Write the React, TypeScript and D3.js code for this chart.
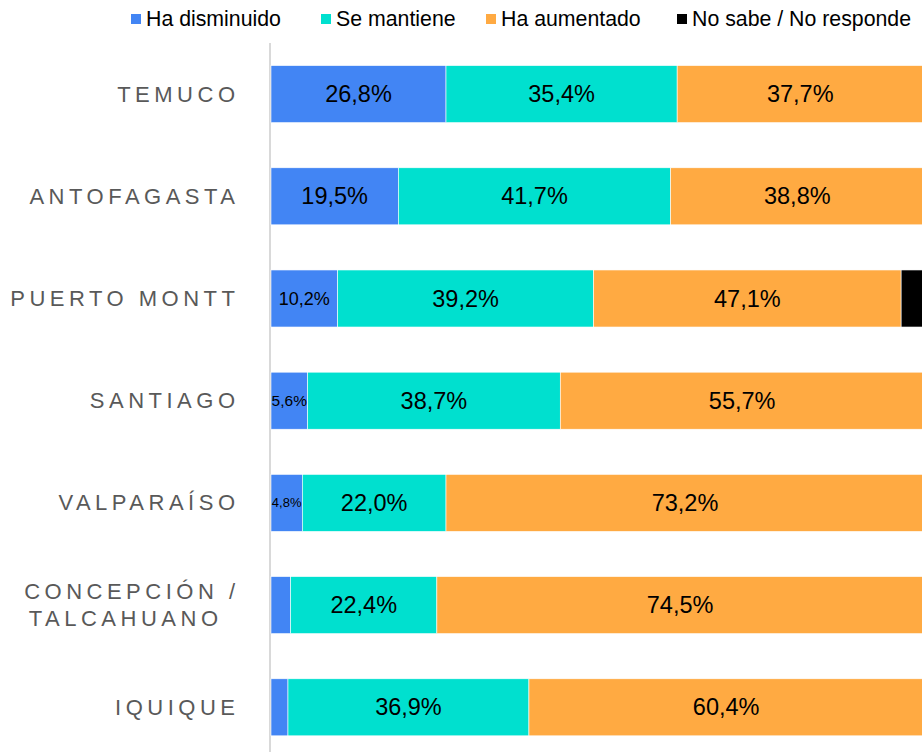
import React from "react";
import * as d3 from "d3";

const categories = ["TEMUCO", "ANTOFAGASTA", "PUERTO MONTT", "SANTIAGO", "VALPARAÍSO", "CONCEPCIÓN / TALCAHUANO", "IQUIQUE"];
const categoryLines = [["TEMUCO"], ["ANTOFAGASTA"], ["PUERTO MONTT"], ["SANTIAGO"], ["VALPARAÍSO"], ["CONCEPCIÓN /", "TALCAHUANO"], ["IQUIQUE"]];
const seriesNames = ["Ha disminuido", "Se mantiene", "Ha aumentado", "No sabe / No responde"];
const disminuido = [26.8, 19.5, 10.2, 5.6, 4.8, 3.0, 2.6];
const mantiene = [35.4, 41.7, 39.2, 38.7, 22.0, 22.4, 36.9];
const aumentado = [37.7, 38.8, 47.1, 55.7, 73.2, 74.5, 60.4];
const noSabe = [0, 0, 3.5, 0, 0, 0, 0];

const colors = ["#4285F4", "#00E0CF", "#FFAA42", "#000000"];

const W = 922;
const H = 752;

function labelSize(v: number) {
  if (v >= 15) return 23.5;
  if (v >= 10) return 18;
  if (v >= 5) return 15.5;
  return 13;
}

export default function App() {
  const series = [disminuido, mantiene, aumentado, noSabe];
  const rows = categories.map((c, i) => {
    const r: any = { cat: c };
    seriesNames.forEach((s, j) => (r[s] = series[j][i]));
    return r;
  });
  const stacked = d3.stack<any>().keys(seriesNames)(rows);

  const x = d3.scaleLinear().domain([0, 100]).range([271, 924]);
  const y = d3
    .scaleBand<string>()
    .domain(categories)
    .range([43, 43 + 7 * 102.2])
    .paddingInner(0.442)
    .paddingOuter(0.221);

  const legendX = [131, 321, 486, 677];

  return (
    <svg
      width={W}
      height={H}
      style={{ position: "absolute", left: 0, top: 0, fontFamily: "'Liberation Sans', Arial, sans-serif" }}
    >
      <rect width={W} height={H} fill="#fff" />
      {/* legend */}
      {seriesNames.map((s, i) => (
        <g key={s}>
          <rect x={legendX[i]} y={14} width={10} height={10} fill={colors[i]} />
          <text x={legendX[i] + 15} y={19} dominantBaseline="central" fontSize={21.3} fill="#000">
            {s}
          </text>
        </g>
      ))}
      {/* axis line */}
      <line x1={270} x2={270} y1={43} y2={H} stroke="#d9d9d9" strokeWidth={2} />
      {/* bars */}
      {stacked.map((layer, j) => (
        <g key={layer.key}>
          {layer.map((d, i) => {
            const v = d[1] - d[0];
            if (v <= 0) return null;
            const x0 = x(d[0]);
            const x1 = x(d[1]);
            const yy = y(categories[i])!;
            const bw = y.bandwidth();
            const showLabel = j < 3 && v >= 4;
            return (
              <g key={i}>
                <rect x={x0} y={yy} width={x1 - x0} height={bw} fill={colors[j]} stroke="#ffffff" strokeWidth={0.6} />
                {showLabel && (
                  <text
                    x={(x0 + x1) / 2}
                    y={yy + bw / 2}
                    textAnchor="middle"
                    dominantBaseline="central"
                    fontSize={labelSize(v)}
                    fill="#000"
                  >
                    {d3.format(".1f")(v).replace(".", ",") + "%"}
                  </text>
                )}
              </g>
            );
          })}
        </g>
      ))}
      {/* category labels */}
      {categories.map((c, i) => {
        const cy = y(c)! + y.bandwidth() / 2;
        const lines = categoryLines[i];
        return lines.map((ln, k) => (
          <text
            key={c + k}
            x={239.5 - (lines.length > 1 && k === 1 ? 17 : 0)}
            y={lines.length > 1 ? cy + (k === 0 ? -14 : 13.5) : cy}
            textAnchor="end"
            dominantBaseline="central"
            fontSize={22}
            letterSpacing={4.5}
            fill="#595959"
          >
            {ln}
          </text>
        ));
      })}
    </svg>
  );
}
